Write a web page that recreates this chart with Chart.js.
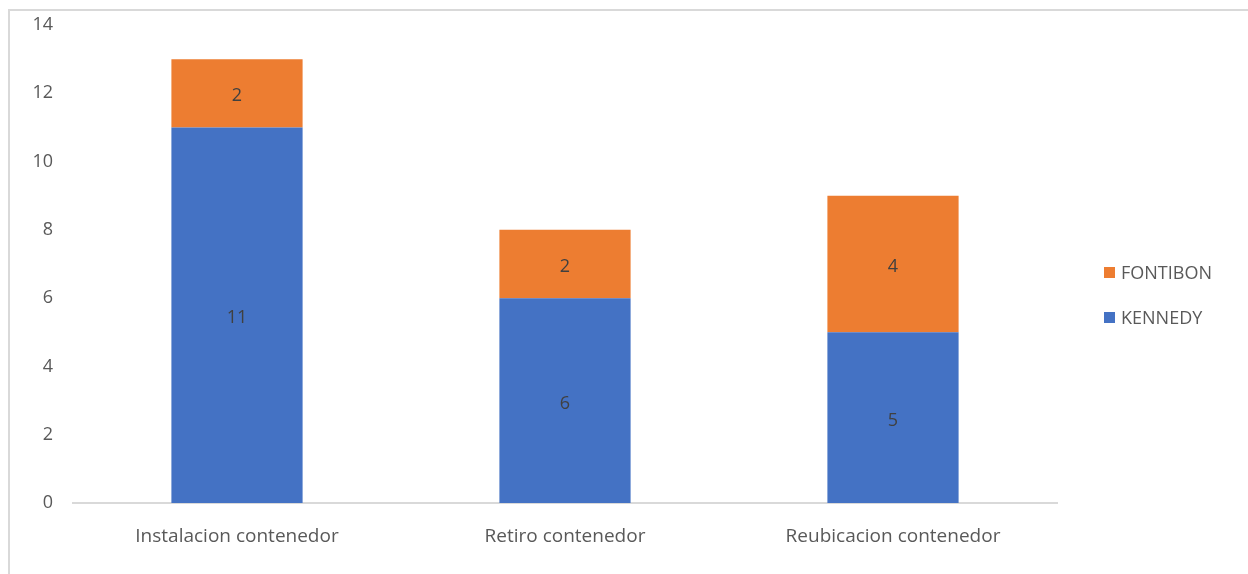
<!DOCTYPE html>
<html>
<head>
<meta charset="utf-8">
<script src="https://cdn.jsdelivr.net/npm/chart.js"></script>
<style>
  html, body { margin: 0; padding: 0; background: #fff; }
  #wrap { position: relative; width: 1248px; height: 574px; }
  #frame { position: absolute; left: 8px; top: 9px; right: -10px; bottom: -10px;
           border-top: 2px solid #d9d9d9; border-left: 2px solid #d9d9d9; }
  canvas { position: absolute; left: 0; top: 0; }
</style>
</head>
<body>
<div id="wrap">
  <div id="frame"></div>
  <canvas id="chartContainer" width="1248" height="574"></canvas>
</div>
<script>
// datos
var categorias = ['Instalacion contenedor', 'Retiro contenedor', 'Reubicacion contenedor'];
var kennedy = [11, 6, 5];
var fontibon = [2, 2, 4];
var yTicks = [0, 2, 4, 6, 8, 10, 12, 14];

var FONT = '"Open Sans", Lato, sans-serif';
var GRIS = '#595959';

// etiquetas de valor dentro de cada segmento
var etiquetas = {
  id: 'etiquetas',
  afterDatasetsDraw: function(chart) {
    var ctx = chart.ctx;
    ctx.save();
    ctx.font = '18px ' + FONT;
    ctx.fillStyle = '#404040';
    ctx.textAlign = 'center';
    ctx.textBaseline = 'middle';
    chart.data.datasets.forEach(function(ds, i) {
      chart.getDatasetMeta(i).data.forEach(function(bar, j) {
        var y = (bar.y + bar.base) / 2 + 3;
        ctx.fillText(ds.data[j], bar.x, y);
      });
    });
    ctx.restore();
  }
};

// leyenda a la derecha (FONTIBON arriba)
var leyenda = {
  id: 'leyenda',
  afterDraw: function(chart) {
    var ctx = chart.ctx;
    var items = chart.data.datasets.slice().reverse();
    ctx.save();
    ctx.font = '18px ' + FONT;
    ctx.textBaseline = 'middle';
    items.forEach(function(ds, k) {
      var y = 272 + k * 45;
      ctx.fillStyle = ds.backgroundColor;
      ctx.fillRect(1104, y - 5, 11, 11);
      ctx.fillStyle = GRIS;
      ctx.fillText(ds.label, 1121, y + 2);
    });
    ctx.restore();
  }
};

new Chart(document.getElementById('chartContainer').getContext('2d'), {
  type: 'bar',
  data: {
    labels: categorias,
    datasets: [
      { label: 'KENNEDY', data: kennedy, backgroundColor: '#4472C4' },
      { label: 'FONTIBON', data: fontibon, backgroundColor: '#ED7D31' }
    ]
  },
  options: {
    responsive: false,
    animation: false,
    devicePixelRatio: 1,
    layout: { padding: { top: 25, right: 191, left: 0, bottom: 0 } },
    datasets: { bar: { barPercentage: 0.4, categoryPercentage: 1 } },
    plugins: { legend: { display: false }, tooltip: { enabled: false } },
    scales: {
      x: {
        stacked: true,
        grid: { display: false, drawTicks: false },
        border: { color: '#d9d9d9', width: 2 },
        ticks: { color: GRIS, font: { family: FONT, size: 19 }, padding: 22, maxRotation: 0 },
        afterFit: function(s) { s.height = 71; s.paddingLeft = 0; s.paddingRight = 0; }
      },
      y: {
        stacked: true,
        min: 0,
        max: 14,
        grid: { display: false, drawTicks: false },
        border: { display: false },
        afterBuildTicks: function(s) { s.ticks = yTicks.map(function(v) { return { value: v }; }); },
        ticks: { color: GRIS, font: { family: FONT, size: 18 }, padding: 20 },
        afterFit: function(s) { s.width = 73; s.paddingTop = 0; s.paddingBottom = 0; }
      }
    }
  },
  plugins: [etiquetas, leyenda]
});
</script>
</body>
</html>
